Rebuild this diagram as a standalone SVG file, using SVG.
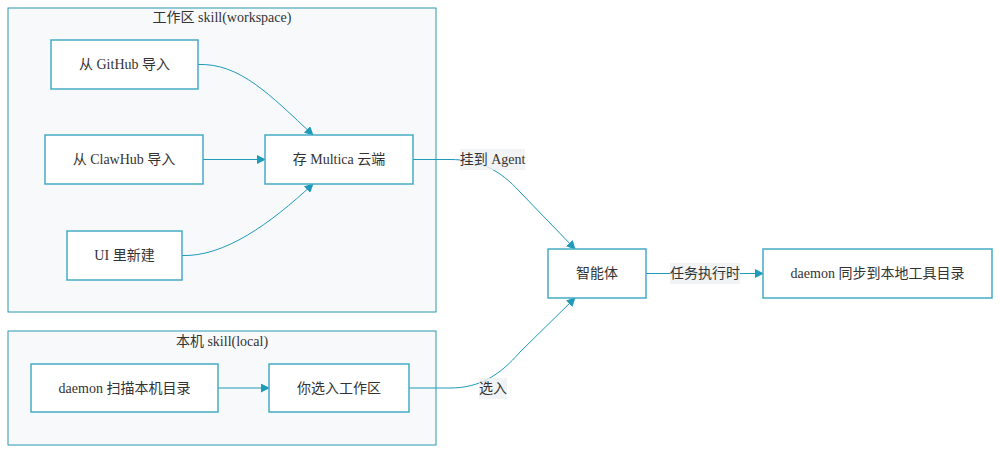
<svg xmlns="http://www.w3.org/2000/svg" width="1000" height="453" viewBox="0 0 1000 453">
<style>
.cluster{fill:#f8f9fb;stroke:#2a98b4;stroke-width:1}
.node rect{fill:#ffffff;stroke:#45abc5;stroke-width:1.5}
text{font-family:"Liberation Serif","Noto Sans CJK SC",serif;font-size:14px;fill:#333333;text-anchor:middle;dominant-baseline:central}
.edge{fill:none;stroke:#1f9ab8;stroke-width:1}
.lbg{fill:#eef0f3;opacity:0.8}
</style>
<defs>
<marker id="arr" viewBox="0 0 10 10" refX="9" refY="5" markerWidth="9" markerHeight="9" markerUnits="userSpaceOnUse" orient="auto">
<path d="M0,0 L10,5 L0,10 z" fill="#1f9ab8"/>
</marker>
</defs>
<g id="cluster-workspace">
<rect class="cluster" x="8" y="8" width="428" height="304"/>
<text x="222" y="17">工作区 skill(workspace)</text>
</g>
<g id="cluster-local">
<rect class="cluster" x="8" y="331" width="428" height="114"/>
<text x="222" y="341">本机 skill(local)</text>
</g>
<g id="connectors">
<path class="edge" d="M198,64.5 C240,63 270,95 313,135" marker-end="url(#arr)"/>
<path class="edge" d="M203,159.5 L265,159.5" marker-end="url(#arr)"/>
<path class="edge" d="M182,255.5 C224,257 270,224 313,184" marker-end="url(#arr)"/>
<path class="edge" d="M413,159.5 L450,159.5 C480,159.5 500,170 520,192 L575,249" marker-end="url(#arr)"/>
<path class="edge" d="M646,273.5 L763,273.5" marker-end="url(#arr)"/>
<path class="edge" d="M218,388 L269,388" marker-end="url(#arr)"/>
<path class="edge" d="M409,388 L450,388 C480,388 500,375 520,352 L575,298" marker-end="url(#arr)"/>
<rect class="lbg" x="460" y="149" width="65" height="21"/>
<text x="492.5" y="159.5">挂到 Agent</text>
<rect class="lbg" x="670" y="263" width="70" height="21"/>
<text x="705" y="273.5">任务执行时</text>
<rect class="lbg" x="479" y="378" width="28" height="21"/>
<text x="493" y="388.5">选入</text>
</g>
<g id="n-github" class="node">
<rect x="51" y="40" width="147" height="49"/>
<text x="124.5" y="64.5">从 GitHub 导入</text>
</g>
<g id="n-clawhub" class="node">
<rect x="45" y="135" width="158" height="49"/>
<text x="124" y="159.5">从 ClawHub 导入</text>
</g>
<g id="n-multica" class="node">
<rect x="265" y="135" width="148" height="49"/>
<text x="339" y="159.5">存 Multica 云端</text>
</g>
<g id="n-ui" class="node">
<rect x="67" y="231" width="115" height="49"/>
<text x="124.5" y="255.5">UI 里新建</text>
</g>
<g id="n-agent" class="node">
<rect x="548" y="249" width="98" height="49"/>
<text x="597" y="273.5">智能体</text>
</g>
<g id="n-sync" class="node">
<rect x="763" y="249" width="229" height="49"/>
<text x="877.5" y="273.5">daemon 同步到本地工具目录</text>
</g>
<g id="n-scan" class="node">
<rect x="31" y="364" width="187" height="48"/>
<text x="124.5" y="388">daemon 扫描本机目录</text>
</g>
<g id="n-select" class="node">
<rect x="269" y="364" width="140" height="48"/>
<text x="339" y="388">你选入工作区</text>
</g>
</svg>
